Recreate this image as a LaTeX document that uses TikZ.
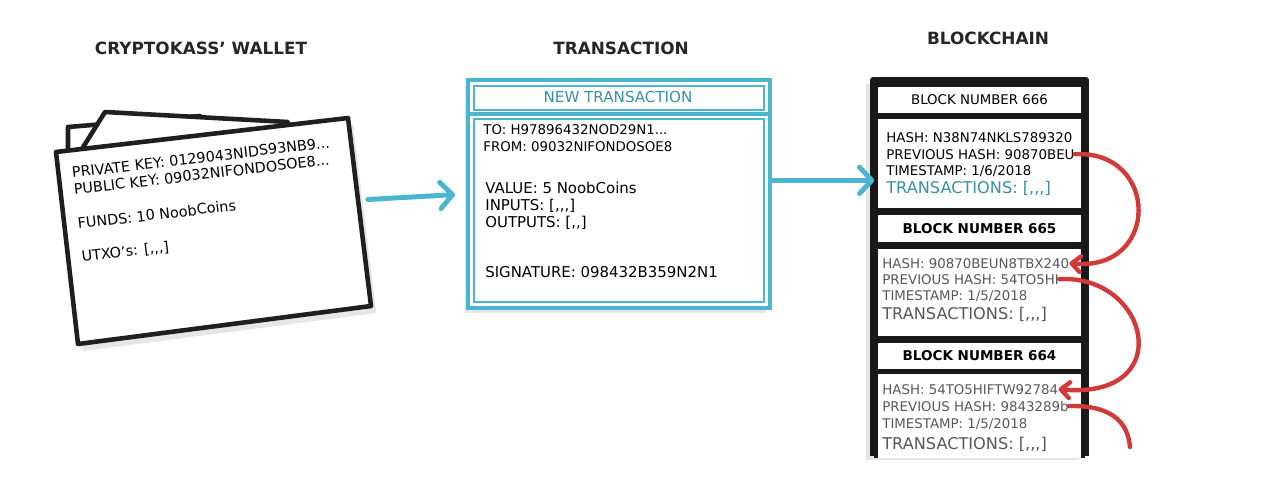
\documentclass[tikz,border=0pt]{standalone}
\usepackage{fontspec}
\setmainfont{DejaVu Sans}
\usepackage{xcolor}
\usetikzlibrary{positioning,arrows.meta,shadows,calc}
\definecolor{txblue}{HTML}{4BB4CF}
\definecolor{txteal}{HTML}{3A8FA6}
\definecolor{chainred}{HTML}{D23A3A}
\definecolor{oldgray}{HTML}{585858}

\begin{document}
\begin{tikzpicture}[
  x=0.02cm, y=-0.02cm,
  font=\fontsize{7.6}{9}\selectfont,
  head/.style={font=\fontsize{9.6}{11}\selectfont\bfseries, text=black!85},
  card/.style={draw=black!88, line width=2.6pt, line join=round, fill=white},
  wline/.style={anchor=base west, rotate=6.7, inner sep=0pt, font=\fontsize{8.2}{9.6}\selectfont},
  txframe/.style={draw=txblue, line width=2.8pt, fill=white, minimum width=6.04cm, minimum height=4.56cm, inner sep=0pt},
  txthin/.style={draw=txblue, line width=0.7pt},
  line/.style={anchor=base west, inner sep=0pt},
  txline/.style={anchor=base west, inner sep=0pt, font=\fontsize{8.5}{10}\selectfont},
  bframe/.style={draw=black!90, line width=3pt, line join=round},
  bhead/.style={draw=black!90, line width=2pt, fill=white, minimum width=4.14cm, inner sep=0pt, font=\fontsize{7.6}{9}\selectfont},
  bbody/.style={draw=black!90, line width=2pt, fill=white, minimum width=4.14cm, inner sep=0pt},
  bigline/.style={anchor=base west, inner sep=0pt, font=\fontsize{9.2}{10}\selectfont},
  flow/.style={draw=txblue, line width=2.8pt, line cap=round, -{Straight Barb[length=7pt, width=15pt, round]}},
  link/.style={draw=chainred, line width=2.5pt, line cap=round, -{Straight Barb[length=5pt, width=9pt, round]}}
]
\useasboundingbox (0,0) rectangle (1280,480);

% Titel
\node[head] (twallet) at (201,48) {CRYPTOKASS' WALLET};
\node[head] (ttx)     at (621,48) {TRANSACTION};
\node[head] (tchain)  at (988,38) {BLOCKCHAIN};

% Wallet (drei Karten)
\draw[card] (68,165) -- (68,127) -- (200,116) -- (200,165) -- cycle;
\draw[card] (72,165) -- (105,112) -- (288,122) -- (292,165) -- cycle;
\draw[card, drop shadow={shadow xshift=3pt, shadow yshift=-4pt, opacity=0.2}]
  (56,152) -- (348,118) -- (371,306) -- (78,344) -- cycle;
\coordinate (cardE) at (359,200);
\node[wline, anchor=north west, align=left] (keys) at (71,167)
  {PRIVATE KEY: 0129043NIDS93NB9...\\PUBLIC KEY: 09032NIFONDOSOE8...};
\node[wline] (funds) at (78,229) {FUNDS: 10 NoobCoins};
\node[wline] (utxo)  at (82,262) {UTXO's: [{,}{,}{,}]};

% Transaktion
\node[txframe, drop shadow={shadow xshift=-2pt, shadow yshift=-3pt, opacity=0.2}] (tx) at (619,194) {};
\coordinate (sepy) at (0,114);
\draw[txframe] (tx.west |- sepy) -- (tx.east |- sepy);
\draw[txthin] (474,86) rectangle (764,110);
\draw[txthin] (474,119) rectangle (764,302);
\node[text=txteal, font=\fontsize{8.6}{10}\selectfont] (txtitle) at (618,97) {NEW TRANSACTION};
\node[line]   (to)   at (483,134) {TO: H97896432NOD29N1...};
\node[line]   (from) at (483,151) {FROM: 09032NIFONDOSOE8};
\node[txline] (val)  at (485,193) {VALUE: 5 NoobCoins};
\node[txline] (inp)  at (485,210) {INPUTS: [{,}{,}{,}]};
\node[txline] (outp) at (485,227) {OUTPUTS: [{,}{,}]};
\node[txline] (sig)  at (485,277) {SIGNATURE: 098432B359N2N1};

% Blockchain
\draw[bframe, drop shadow={shadow xshift=-4pt, shadow yshift=-2pt, opacity=0.2}]
  (873,456) -- (873,80) -- (1086,80) -- (1086,456);
\node[bhead, minimum height=0.6cm]  (b666) at (979.5,100) {BLOCK NUMBER 666};
\node[bbody, minimum height=1.86cm] (body666) at (979.5,163.5) {};
\node[bhead, minimum height=0.62cm, font=\fontsize{7.7}{9}\selectfont\bfseries] (b665) at (979.5,228.5) {BLOCK NUMBER 665};
\node[bbody, minimum height=1.82cm] (body665) at (979.5,292.5) {};
\node[bhead, minimum height=0.58cm, font=\fontsize{7.7}{9}\selectfont\bfseries] (b664) at (979.5,356) {BLOCK NUMBER 664};
\draw[draw=black!90, line width=2pt, fill=white] (876,458) -- (876,372) -- (1083,372) -- (1083,458);

\node[line] (h666) at (886,142) {HASH: N38N74NKLS789320};
\node[line] (p666) at (886,159) {PREVIOUS HASH: 90870BEU};
\node[line] (s666) at (886,175) {TIMESTAMP: 1/6/2018};
\node[bigline, text=txteal] (t666) at (886,193) {TRANSACTIONS: [{,}{,}{,}]};

\begin{scope}[text=oldgray]
\node[line] (h665) at (882,268) {HASH: 90870BEUN8TBX240};
\node[line] (p665) at (882,284) {PREVIOUS HASH: 54TO5HI};
\node[line] (s665) at (882,300) {TIMESTAMP: 1/5/2018};
\node[bigline] (t665) at (882,319) {TRANSACTIONS: [{,}{,}{,}]};

\node[line] (h664) at (882,394) {HASH: 54TO5HIFTW92784};
\node[line] (p664) at (882,411) {PREVIOUS HASH: 9843289b};
\node[line] (s664) at (882,428) {TIMESTAMP: 1/5/2018};
\node[bigline] (t664) at (882,449) {TRANSACTIONS: [{,}{,}{,}]};
\end{scope}

% Pfeile
\draw[flow, shorten <=5pt, shorten >=6pt] (cardE) -- (tx.west);
\draw[flow] (tx.east |- t666.north) -- (body666.west |- t666.north);

% Verkettung der Hashes
\coordinate (chainend) at (1130,447);
\draw[link] (p666.east) .. controls (1160,150) and (1160,272) .. (h665.east);
\draw[link] (p665.east) .. controls (1150,274) and (1178,400) .. (h664.east);
\draw[link, -] (p664.east) .. controls (1115,405) and (1128,425) .. (chainend);
\end{tikzpicture}
\end{document}
